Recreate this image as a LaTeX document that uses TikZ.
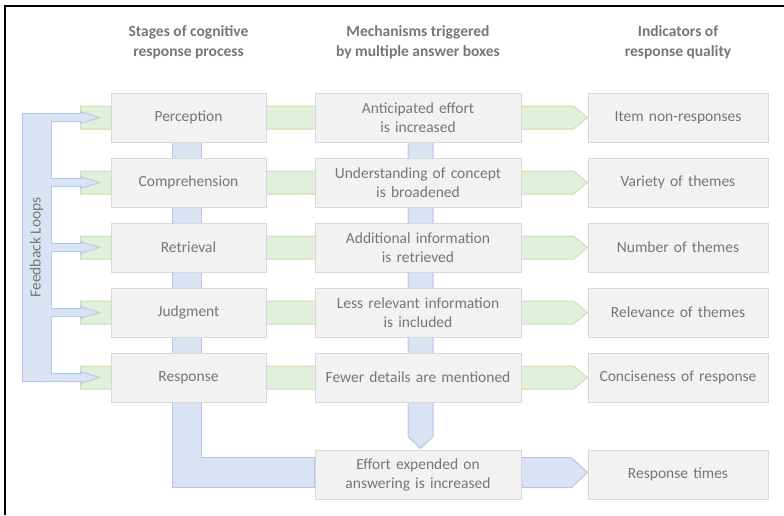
\documentclass[tikz,border=0pt]{standalone}
\usepackage{fontspec}
\setmainfont{Carlito}
\usepackage{xcolor}
\definecolor{box-fill}{RGB}{242,242,242}
\definecolor{box-line}{RGB}{216,216,216}
\definecolor{label-gray}{RGB}{118,118,118}
\definecolor{flow-green}{RGB}{226,240,217}
\definecolor{flow-green-line}{RGB}{197,224,180}
\definecolor{flow-blue}{RGB}{218,227,243}
\definecolor{flow-blue-line}{RGB}{180,199,231}
\usetikzlibrary{positioning,calc,backgrounds}

\begin{document}
\begin{tikzpicture}[x=1pt, y=-1pt,
    stage box/.style={draw=box-line, fill=box-fill, line width=1pt, minimum height=49pt, inner sep=0pt, text width=#1, align=center, text=label-gray, font=\fontsize{15.5}{19}\selectfont},
    head label/.style={text=label-gray, align=center, font=\bfseries\fontsize{15.5}{20}\selectfont},
    green band/.style={draw=flow-green-line, fill=flow-green, line width=1pt},
    blue band/.style={draw=flow-blue-line, fill=flow-blue, line width=1pt},
    loop outline/.style={draw=flow-blue-line, line width=2pt}
]
\useasboundingbox (0,0) rectangle (784,515);

% Frame (left and top edges only)
\draw[line width=2pt] (5,515) -- (5,6) -- (784,6);

% Stages of the response process
\node[stage box=155pt] (stage1) at (188.5,117.5) {Perception};
\node[stage box=155pt, below=15pt of stage1] (stage2) {Comprehension};
\node[stage box=155pt, below=15pt of stage2] (stage3) {Retrieval};
\node[stage box=155pt, below=15pt of stage3] (stage4) {Judgment};
\node[stage box=155pt, below=15pt of stage4] (stage5) {Response};

% Mechanisms
\node[stage box=206pt, right=48pt of stage1] (mech1) {Anticipated effort\\is increased};
\node[stage box=206pt, right=48pt of stage2] (mech2) {Understanding of concept\\is broadened};
\node[stage box=206pt, right=48pt of stage3] (mech3) {Additional information\\is retrieved};
\node[stage box=206pt, right=48pt of stage4] (mech4) {Less relevant information\\is included};
\node[stage box=206pt, right=48pt of stage5] (mech5) {Fewer details are mentioned};
\node[stage box=206pt, below=47pt of mech5] (effort) {Effort expended on\\answering is increased};

% Indicators
\node[stage box=180pt, right=66pt of mech1] (ind1) {Item non-responses};
\node[stage box=180pt, right=66pt of mech2] (ind2) {Variety of themes};
\node[stage box=180pt, right=66pt of mech3] (ind3) {Number of themes};
\node[stage box=180pt, right=66pt of mech4] (ind4) {Relevance of themes};
\node[stage box=180pt, right=66pt of mech5] (ind5) {Conciseness of response};
\node[stage box=180pt, right=66pt of effort] (rtimes) {Response times};

% Column headers
\node[head label] (head1) at (stage1.center |- 0,42) {Stages of cognitive\\response process};
\node[head label] (head2) at (mech1.center |- 0,42) {Mechanisms triggered\\by multiple answer boxes};
\node[head label] (head3) at (ind1.center |- 0,42) {Indicators of\\response quality};

\begin{scope}[on background layer]
% Green flows: stage -> mechanism -> indicator
\foreach \r in {1,...,5}
  \draw[green band] ($(stage\r.west)+(-30,-11.5)$) -- ($(ind\r.west)+(-14,-11.5)$)
    -- (ind\r.west) -- ($(ind\r.west)+(-14,11.5)$) -- ($(stage\r.west)+(-30,11.5)$) -- cycle;

% Blue flow down the stages and into the effort box
\draw[blue band] ($(stage1.center)+(-16.5,0)$) -- ($(stage1.center)+(12.5,0)$)
  |- ($(effort.west)+(0,-17)$) -- ($(effort.west)+(0,13)$) -| cycle;

% Blue flow down the mechanisms
\draw[blue band] ($(mech1.center)+(-10,0)$) -- ($(mech1.center)+(15,0)$)
  -- ($(effort.north)+(15,-13)$) -- ($(effort.north)+(2.5,-1)$)
  -- ($(effort.north)+(-10,-13)$) -- cycle;

% Effort -> response times
\draw[blue band] ($(effort.east)+(0,-17)$) -- ($(rtimes.west)+(-16,-17)$)
  -- ($(rtimes.west)+(0,-2)$) -- ($(rtimes.west)+(-16,13)$) -- ($(effort.east)+(0,13)$) -- cycle;

% Feedback loops: outline first, fill on top so the joins vanish
\draw[loop outline] ($(stage1.west)+(-88,-3.5)$) rectangle ($(stage5.west)+(-60,3.5)$);
\foreach \r in {1,...,5}
  \draw[loop outline] ($(stage\r.west)+(-70,-3.5)$) -- ($(stage\r.west)+(-29,-3.5)$)
    -- ($(stage\r.west)+(-29,-5)$) -- ($(stage\r.west)+(-13,0)$) -- ($(stage\r.west)+(-29,5)$)
    -- ($(stage\r.west)+(-29,3.5)$) -- ($(stage\r.west)+(-70,3.5)$) -- cycle;
\fill[flow-blue] ($(stage1.west)+(-88,-3.5)$) rectangle ($(stage5.west)+(-60,3.5)$);
\foreach \r in {1,...,5}
  \fill[flow-blue] ($(stage\r.west)+(-70,-3.5)$) -- ($(stage\r.west)+(-29,-3.5)$)
    -- ($(stage\r.west)+(-29,-5)$) -- ($(stage\r.west)+(-13,0)$) -- ($(stage\r.west)+(-29,5)$)
    -- ($(stage\r.west)+(-29,3.5)$) -- ($(stage\r.west)+(-70,3.5)$) -- cycle;
\end{scope}

\node[text=label-gray, rotate=90, font=\fontsize{15.5}{19}\selectfont] (fblabel) at ($(stage3.west)+(-74,0)$) {Feedback Loops};

\end{tikzpicture}
\end{document}
